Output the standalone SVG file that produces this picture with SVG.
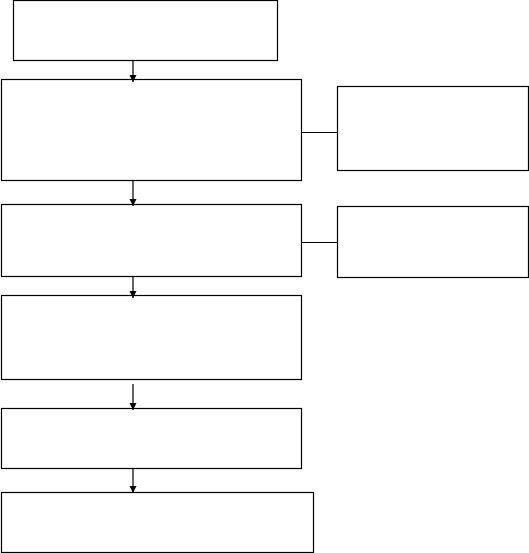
<svg xmlns="http://www.w3.org/2000/svg" width="529" height="553" viewBox="0 0 529 553">
<style>
.box{fill:#fff;stroke:#000;stroke-width:1.2}
.ln{fill:none;stroke:#000;stroke-width:1.2}
</style>
<defs>
<marker id="ah" markerUnits="userSpaceOnUse" markerWidth="8" markerHeight="8" refX="7" refY="3.5" orient="auto">
<path d="M0,0 L7,3.5 L0,7 z" fill="#000"/>
</marker>
</defs>
<rect width="529" height="553" fill="#fff"/>
<g id="n1"><rect class="box" x="13.5" y="0.5" width="264" height="60"/></g>
<g id="n2"><rect class="box" x="1.5" y="79.5" width="300" height="101"/></g>
<g id="s1"><rect class="box" x="337.5" y="86.5" width="191" height="84"/></g>
<g id="n3"><rect class="box" x="1.5" y="204.5" width="300" height="72"/></g>
<g id="s2"><rect class="box" x="337.5" y="206.5" width="191" height="71"/></g>
<g id="n4"><rect class="box" x="1.5" y="295.5" width="300" height="84"/></g>
<g id="n5"><rect class="box" x="1.5" y="408.5" width="300" height="60"/></g>
<g id="n6"><rect class="box" x="1.5" y="492.5" width="312" height="60"/></g>
<g id="connectors">
<line class="ln" x1="133" y1="61" x2="133" y2="82" marker-end="url(#ah)"/>
<line class="ln" x1="133" y1="181" x2="133" y2="206" marker-end="url(#ah)"/>
<line class="ln" x1="133" y1="277" x2="133" y2="298" marker-end="url(#ah)"/>
<line class="ln" x1="133" y1="384" x2="133" y2="410" marker-end="url(#ah)"/>
<line class="ln" x1="133" y1="469" x2="133" y2="493" marker-end="url(#ah)"/>
<line class="ln" x1="301.5" y1="132.5" x2="337.5" y2="132.5"/>
<line class="ln" x1="301.5" y1="242.5" x2="337.5" y2="242.5"/>
</g>
</svg>
